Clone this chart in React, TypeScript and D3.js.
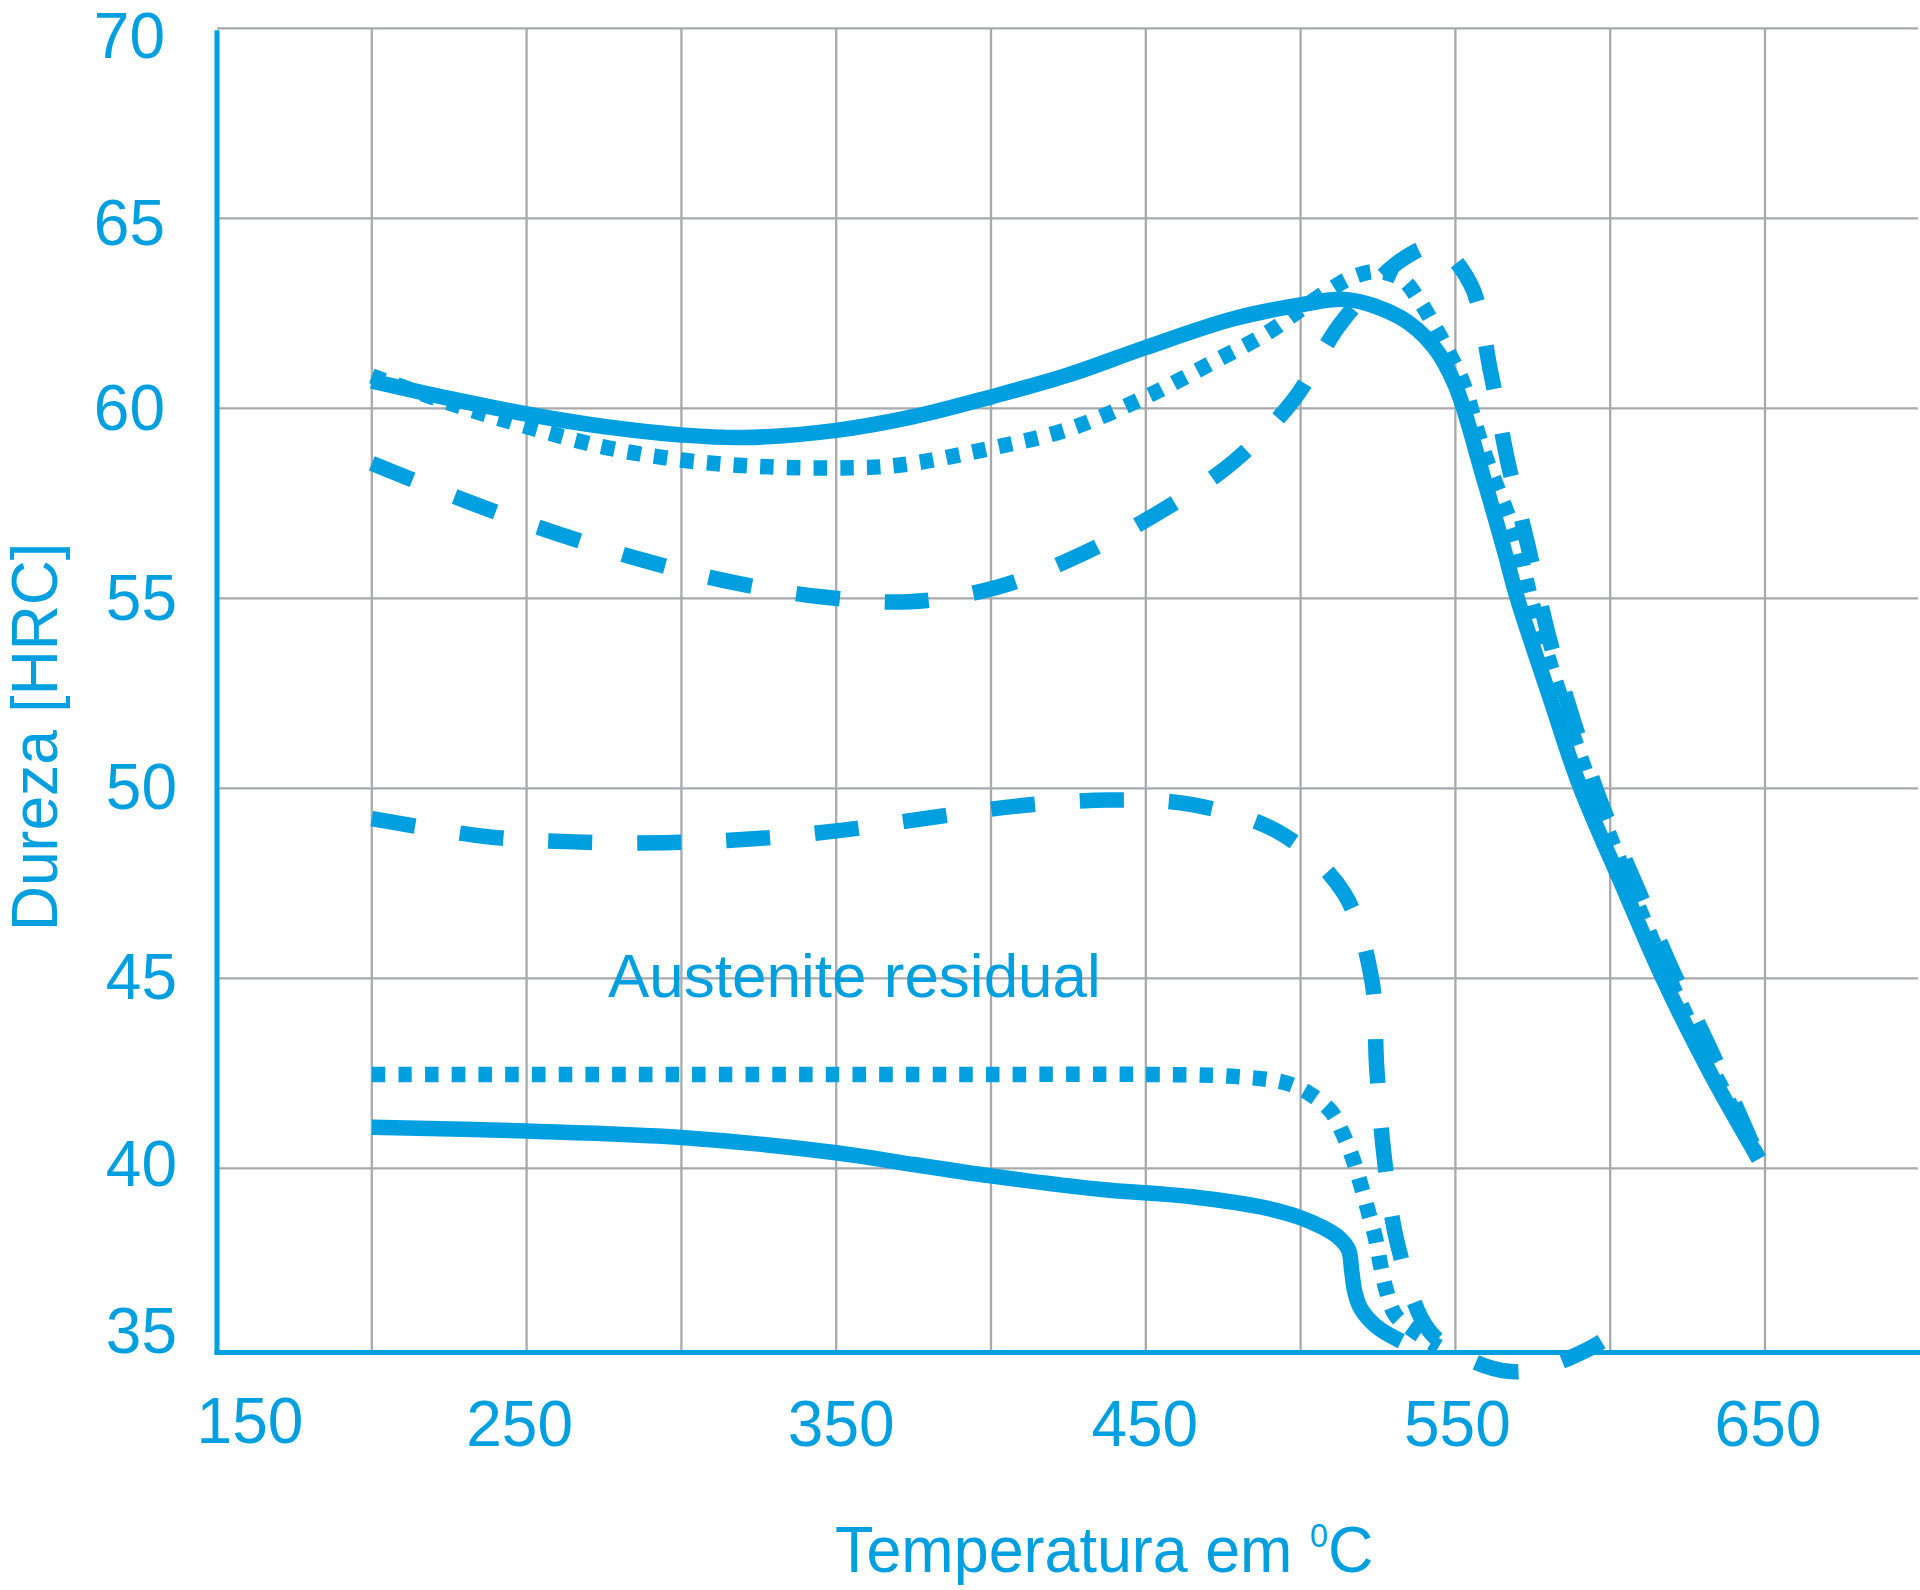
import React from 'react';
import * as d3 from 'd3';

type P = [number, number];

// ---- axis ticks / labels ----
const xGridValues = [200, 250, 300, 350, 400, 450, 500, 550, 600, 650];
const xTickLabels = [150, 250, 350, 450, 550, 650];
const yTickLabels = [70, 65, 60, 55, 50, 45, 40, 35];
const yGridValues = [70, 65, 60, 55, 50, 45, 40];
const xAxisValue = 35.15;

// ---- series (temperature °C, hardness HRC) ----
const solidUpper: P[] = [
  [200, 60.72], [225, 60.26], [250, 59.85], [275, 59.52], [300, 59.3], [320, 59.23],
  [350, 59.42], [375, 59.78], [400, 60.3], [425, 60.88], [450, 61.6], [478, 62.35],
  [500, 62.72], [515, 62.86], [532, 62.4], [543, 61.62], [550, 60.6], [559, 58.2],
  [565.5, 56.35], [570, 55.0], [580.5, 52.4], [590, 50.1], [603.6, 47.5], [617, 45],
  [632, 42.56], [648, 40.25],
];
const dottedUpper: P[] = [
  [200, 60.85], [225, 60.14], [250, 59.52], [275, 58.98], [300, 58.64], [325, 58.47],
  [350, 58.43], [370, 58.5], [400, 58.95], [425, 59.45], [450, 60.3], [473, 61.27],
  [489, 61.97], [500, 62.6], [510, 63.15], [517, 63.46], [525, 63.6], [533, 63.38],
  [538.6, 62.8], [543, 62.2], [547.3, 61.55], [552.5, 60.66], [559, 58.9], [569.5, 56.6],
  [574.5, 54.95], [584, 52.4], [594, 50], [606, 47.5], [619, 45], [633, 42.6], [648, 40.25],
];
const dashedUpper: P[] = [
  [200, 58.55], [233.7, 57.46], [261.1, 56.67], [288.6, 55.98], [316.6, 55.42],
  [345.1, 55.04], [373.6, 54.91], [402, 55.29], [428.7, 56.14], [454, 57.25],
  [478, 58.57], [497.9, 60.24], [513, 62.24], [532.9, 63.92], [544, 64.25],
  [554.9, 63.27], [561.4, 60.95], [566.8, 58.64], [573.5, 56.36], [579.9, 54.07],
  [588, 51.81], [597.1, 49.6], [608.4, 47.44], [619.7, 45.28], [632.3, 43.14],
  [648, 40.25],
];
const dashedLower: P[] = [
  [200, 49.2], [236.8, 48.73], [265.6, 48.59], [294.7, 48.57], [323.4, 48.67],
  [352.2, 48.9], [380.6, 49.23], [409.3, 49.54], [438, 49.69], [465, 49.57],
  [493.9, 48.8], [514, 47.24], [522.9, 45.0], [524.6, 42.63], [527, 40.3],
  [531.4, 37.98], [541.3, 35.75], [555, 34.95], [568, 34.65], [580, 34.8],
  [592.4, 35.22], [597.2, 35.44],
];
const dottedLower: P[] = [
  [200, 42.47], [300, 42.47], [400, 42.47], [450, 42.47], [478, 42.42], [495.5, 42.24],
  [503.5, 41.93], [509.9, 41.49], [513.8, 40.88], [517, 40.22], [519.5, 39.55],
  [522, 38.82], [524.2, 38.16], [525.8, 37.46], [527.8, 36.75], [530.6, 36.14],
  [537, 35.7], [544.6, 35.3],
];
const solidLower: P[] = [
  [200, 41.08], [250, 40.98], [300, 40.81], [350, 40.41], [375, 40.1], [400, 39.8],
  [435, 39.45], [465, 39.25], [489, 38.95], [500, 38.7], [507, 38.45], [512, 38.2],
  [515.5, 37.85], [516.5, 37.3], [517.5, 36.75], [519.5, 36.3], [524.6, 35.83],
  [532.5, 35.45],
];

const yLabelNudge = [29.5, 27, 22, 22, 21, 21, 18, -5];
const yLabelRight = [165, 165, 165, 177, 177, 177, 177, 177];
const xLabelNudge = [33, -7, 5, -1, 2, 3];
const xLabelBaseline = [1443, 1446, 1446, 1446, 1446, 1446];

const BLUE = '#009FDF';
const GRID = '#A7A9AC';
const FONT = '"Liberation Sans", Arial, Helvetica, sans-serif';

export default function App() {
  const x = d3.scaleLinear().domain([150, 700]).range([217, 1919.8]);
  const y = d3.scaleLinear().domain([35, 70]).range([1358.3, 28.3]);
  const line = d3
    .line<P>()
    .x((d) => x(d[0]))
    .y((d) => y(d[1]))
    .curve(d3.curveCatmullRom.alpha(0.5));

  const W = 15.5;
  const series = [
    { data: solidUpper, dash: undefined as string | undefined, w: W },
    { data: dottedUpper, dash: '13.5,13.2', w: W },
    { data: dashedUpper, dash: '44,45', w: W },
    { data: dashedLower, dash: '44,45', w: W },
    { data: dottedLower, dash: '13.5,13.2', w: W },
    { data: solidLower, dash: undefined as string | undefined, w: W },
  ];

  const yAxisY = y(xAxisValue);

  return (
    <svg
      width={1920}
      height={1590}
      style={{ position: 'absolute', left: 0, top: 0, background: '#fff' }}
      fontFamily={FONT}
    >
      <rect x={0} y={0} width={1920} height={1590} fill="#fff" />
      {/* grid */}
      {yGridValues.map((v) => (
        <line key={'hy' + v} x1={x(150)} x2={1918} y1={y(v)} y2={y(v)} stroke={GRID} strokeWidth={2.3} />
      ))}
      {xGridValues.map((v) => (
        <line key={'vx' + v} x1={x(v)} x2={x(v)} y1={y(70)} y2={yAxisY} stroke={GRID} strokeWidth={2.3} />
      ))}
      {/* axes */}
      <line x1={x(150)} x2={x(150)} y1={y(70) + 2} y2={yAxisY + 2} stroke={BLUE} strokeWidth={5} />
      <line x1={x(150) - 2.5} x2={1920} y1={yAxisY} y2={yAxisY} stroke={BLUE} strokeWidth={5} />

      {/* curves */}
      {series.map((s, i) => (
        <path
          key={'s' + i}
          d={line(s.data) || ''}
          fill="none"
          stroke={BLUE}
          strokeWidth={s.w}
          strokeDasharray={s.dash}
          strokeLinecap="butt"
          strokeLinejoin="round"
        />
      ))}

      {/* y tick labels */}
      {yTickLabels.map((v, i) => (
        <text
          key={'yl' + v}
          x={yLabelRight[i]}
          y={y(v) + yLabelNudge[i]}
          textAnchor="end"
          fontSize={64}
          fill={BLUE}
        >
          {v}
        </text>
      ))}
      {/* x tick labels */}
      {xTickLabels.map((v, i) => (
        <text
          key={'xl' + v}
          x={x(v) + xLabelNudge[i]}
          y={xLabelBaseline[i]}
          textAnchor="middle"
          fontSize={64}
          fill={BLUE}
        >
          {v}
        </text>
      ))}

      {/* axis titles */}
      <g transform="translate(835,1572) scale(0.982,1)">
        <text x={0} y={0} fontSize={64} fill={BLUE}>
          Temperatura em{' '}
          <tspan fontSize={33} dy={-25.5}>0</tspan>
          <tspan dy={25.5}>C</tspan>
        </text>
      </g>
      <g transform="translate(57,737) rotate(-90) scale(0.975,1)">
        <text x={0} y={0} fontSize={64} fill={BLUE} textAnchor="middle">
          Dureza [HRC]
        </text>
      </g>

      {/* annotation */}
      <text x={608} y={997} fontSize={62} fill={BLUE}>
        Austenite residual
      </text>
    </svg>
  );
}
